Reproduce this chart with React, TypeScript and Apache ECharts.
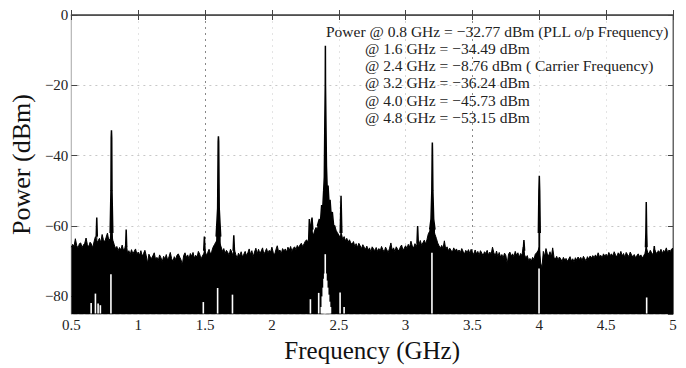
import React, { useEffect, useRef } from "react";
import * as echarts from "echarts";

// Spectrum noise floor, sampled every 0.01 GHz from 0.50 GHz (dBm)
const FREQ_START = 0.5;
const FREQ_STEP = 0.01;
const noiseFloor = [
  -66.0, -65.2, -65.8, -63.6, -65.5, -66.3, -65.0, -64.8, -66.1, -65.4, // 0.50
  -64.9, -63.4, -65.3, -65.9, -64.6, -65.1, -66.2, -64.4, -63.0, -64.8, // 0.60
  -64.2, -63.5, -64.7, -62.4, -63.9, -64.5, -63.2, -62.0, -64.1, -63.6, // 0.70
  -61.5, -64.0, -65.2, -66.4, -65.8, -67.0, -66.1, -66.8, -65.4, -66.9, // 0.80
  -66.3, -64.8, -67.6, -67.0, -68.1, -66.7, -67.9, -67.2, -66.5, -68.0, // 0.90
  -67.4, -68.3, -67.0, -68.6, -67.8, -66.9, -68.4, -70.6, -68.0, -68.8, // 1.00
  -69.2, -68.4, -67.6, -69.5, -68.9, -69.8, -68.2, -69.0, -70.1, -68.6, // 1.10
  -69.4, -68.1, -69.7, -68.8, -67.5, -69.3, -70.0, -68.7, -69.5, -68.3, // 1.20
  -67.9, -68.8, -69.6, -71.0, -68.4, -67.6, -68.9, -68.2, -69.3, -67.8, // 1.30
  -68.6, -67.5, -69.1, -68.3, -68.9, -67.2, -68.0, -69.4, -68.5, -67.9, // 1.40
  -67.0, -68.4, -67.5, -66.6, -68.0, -67.2, -66.0, -65.3, -64.6, -64.0, // 1.50
  -62.5, -64.8, -65.9, -67.2, -66.4, -67.8, -66.9, -67.5, -68.3, -66.6, // 1.60
  -67.4, -68.6, -66.8, -68.1, -69.2, -67.7, -68.5, -67.3, -68.8, -68.0, // 1.70
  -67.2, -68.4, -67.6, -66.5, -68.1, -67.0, -68.7, -67.4, -66.3, -67.9, // 1.80
  -66.6, -67.8, -67.1, -66.2, -68.0, -67.3, -66.4, -67.7, -66.9, -67.4, // 1.90
  -66.0, -67.5, -68.2, -66.7, -65.6, -67.3, -66.8, -67.9, -66.4, -67.1, // 2.00
  -66.5, -67.4, -66.0, -66.9, -65.8, -67.2, -66.3, -65.9, -66.7, -65.5, // 2.10
  -66.2, -65.4, -64.9, -65.8, -65.1, -64.3, -63.9, -64.6, -63.5, -62.9, // 2.20
  -61.8, -62.6, -61.2, -60.4, -61.0, -59.8, -58.7, -59.3, -57.9, -57.2, // 2.30
  -57.0, -57.5, -58.3, -57.8, -59.0, -59.6, -60.3, -59.8, -61.2, -61.9, // 2.40
  -62.5, -63.4, -62.2, -63.8, -63.0, -64.2, -63.5, -64.6, -63.9, -64.8, // 2.50
  -65.2, -64.4, -65.8, -65.0, -66.1, -64.9, -65.6, -66.4, -65.3, -66.0, // 2.60
  -66.6, -65.7, -66.9, -66.2, -67.3, -65.9, -66.5, -67.0, -66.1, -67.2, // 2.70
  -66.4, -67.1, -65.8, -66.7, -67.4, -66.0, -66.8, -67.5, -66.3, -64.8, // 2.80
  -66.9, -66.2, -67.3, -65.9, -66.6, -67.1, -66.0, -65.4, -66.8, -66.3, // 2.90
  -65.6, -66.4, -65.2, -66.0, -64.3, -65.7, -66.2, -65.0, -65.8, -64.6, // 3.00
  -65.3, -64.1, -65.5, -64.7, -64.0, -65.1, -63.8, -62.2, -61.5, -60.5, // 3.10
  -59.8, -61.2, -62.4, -63.5, -64.8, -65.6, -66.3, -65.5, -66.4, -64.2, // 3.20
  -66.6, -65.9, -67.0, -66.3, -66.9, -67.4, -66.2, -67.1, -66.5, -67.3, // 3.30
  -66.8, -67.5, -66.4, -67.2, -68.0, -66.9, -67.6, -66.7, -67.8, -66.6, // 3.40
  -67.4, -68.1, -66.8, -67.9, -67.2, -68.3, -67.0, -67.7, -68.4, -67.3, // 3.50
  -67.8, -66.9, -68.2, -67.4, -68.0, -66.0, -67.6, -68.5, -67.1, -68.7, // 3.60
  -67.5, -68.8, -68.1, -69.0, -67.7, -68.4, -70.8, -68.0, -67.4, -68.6, // 3.70
  -67.9, -68.7, -67.2, -68.3, -67.6, -68.9, -67.8, -68.4, -66.0, -68.2, // 3.80
  -69.1, -68.4, -69.8, -69.2, -70.0, -68.9, -69.5, -68.0, -67.6, -67.0, // 3.90
  -66.0, -70.5, -71.8, -67.2, -68.6, -66.4, -67.9, -68.5, -67.3, -68.8, // 4.00
  -66.2, -68.9, -69.4, -68.6, -69.7, -68.8, -69.3, -70.1, -68.9, -69.6, // 4.10
  -69.2, -70.0, -69.4, -68.7, -69.9, -69.3, -70.2, -69.0, -69.7, -68.8, // 4.20
  -69.5, -68.9, -69.8, -68.6, -69.3, -69.9, -68.7, -69.4, -68.5, -69.1, // 4.30
  -68.4, -69.0, -68.2, -68.9, -67.6, -68.7, -68.3, -69.1, -67.9, -68.6, // 4.40
  -68.0, -68.7, -67.5, -68.4, -67.9, -68.6, -67.3, -68.2, -68.8, -67.6, // 4.50
  -68.3, -67.2, -68.5, -67.8, -68.9, -67.5, -68.1, -68.7, -67.4, -68.2, // 4.60
  -68.8, -68.1, -69.0, -68.4, -67.9, -68.7, -68.2, -69.1, -68.5, -67.8, // 4.70
  -66.0, -67.4, -68.0, -66.9, -67.6, -68.2, -66.5, -67.3, -67.9, -67.0, // 4.80
  -67.5, -66.6, -67.8, -66.9, -67.3, -66.2, -67.6, -66.8, -67.2, -66.5, // 4.90
  -66.3, // 5.00
];

// Spectral lines / spurs: [GHz, dBm] outlines
const peakShapes: number[][][] = [
  [[0.686, -63], [0.69, -57.6], [0.694, -63]],
  [[0.79, -62], [0.796, -50], [0.798, -35], [0.8, -32.77], [0.802, -35], [0.804, -50], [0.81, -62]],
  [[0.906, -66], [0.91, -61], [0.914, -66]],
  [[1.49, -67], [1.495, -63], [1.5, -67]],
  [[1.583, -63], [1.594, -55], [1.598, -36], [1.6, -34.49], [1.602, -36], [1.606, -55], [1.617, -63]],
  [[1.71, -67], [1.715, -62.6], [1.72, -67]],
  [[2.275, -64], [2.28, -58], [2.286, -62], [2.3, -57.6], [2.306, -61]],
  [[2.34, -60], [2.355, -58], [2.362, -59.5], [2.372, -54], [2.38, -55], [2.387, -50], [2.392, -46], [2.396, -30], [2.399, -20], [2.4, -8.76],
   [2.401, -20], [2.404, -30], [2.408, -43], [2.414, -50], [2.42, -48.5], [2.428, -54], [2.435, -52.5], [2.443, -57], [2.452, -56], [2.462, -60], [2.47, -61]],
  [[2.511, -62], [2.517, -51.4], [2.523, -62]],
  [[3.085, -65], [3.09, -60], [3.095, -65]],
  [[3.18, -61], [3.19, -58], [3.196, -50], [3.199, -38], [3.2, -36.24], [3.201, -38], [3.204, -50], [3.21, -58], [3.22, -61]],
  [[3.88, -67], [3.885, -64], [3.89, -67]],
  [[3.993, -62], [3.997, -50], [4.0, -45.73], [4.003, -50], [4.007, -62]],
  [[4.794, -66], [4.797, -62], [4.799, -56], [4.8, -53.15], [4.801, -56], [4.803, -62], [4.806, -66]],
  [[4.855, -68], [4.86, -65.7], [4.865, -68]],
];

// White notches at the bottom of the trace: [GHz, top dBm]
const gaps: [number, number][] = [
  [0.648, -81.9], [0.68, -79.2], [0.7, -82], [0.717, -82.5], [0.796, -73.7],
  [1.487, -81.6], [1.594, -77.6], [1.705, -79.5],
  [2.288, -80.8], [2.35, -79],
  [2.37, -83], [2.377, -80], [2.384, -77.5], [2.39, -75], [2.395, -73.5], [2.399, -68],
  [2.404, -73.5], [2.41, -75.5], [2.417, -77.5], [2.424, -79.5], [2.431, -81.5], [2.438, -83],
  [2.51, -78.9], [2.54, -83], [3.197, -67.6], [3.998, -72.1], [4.803, -80.3],
];

const annotation = [
  "Power @ 0.8 GHz = \u221232.77 dBm (PLL o/p Frequency)",
  "@ 1.6 GHz = \u221234.49 dBm",
  "@ 2.4 GHz = \u22128.76 dBm ( Carrier Frequency)",
  "@ 3.2 GHz = \u221236.24 dBm",
  "@ 4.0 GHz = \u221245.73 dBm",
  "@ 4.8 GHz = \u221253.15 dBm",
];

const Y_MIN = -85;
const SERIF = "Liberation Serif";

export default function App() {
  const ref = useRef<HTMLDivElement>(null);
  useEffect(() => {
    const chart = echarts.init(ref.current!, null, { renderer: "svg" });
    const noiseData = noiseFloor.map((v, i) => [+(FREQ_START + i * FREQ_STEP).toFixed(2), v]);
    const minus = (v: number) => (v < 0 ? "\u2212" + String(-v) : String(v));
    const faint = "#e4e4e4";
    const dark = "#888";
    const vColors = [faint, faint, dark, faint, faint, "#d4d4d4", dark, faint, faint, faint];

    const lineSeries = (data: number[][], width: number) => ({
      type: "line",
      data,
      symbol: "none",
      silent: true,
      lineStyle: { color: "#000", width },
      areaStyle: { color: "#000", opacity: 1, origin: "start" },
      z: 3,
    });

    chart.setOption({
      animation: false,
      backgroundColor: "#fff",
      textStyle: { fontFamily: SERIF },
      grid: { left: 65, right: 13, top: 15, bottom: 41, show: true, borderColor: "#666", borderWidth: 1 },
      xAxis: [
        {
          type: "value",
          min: 0.5,
          max: 5,
          interval: 0.5,
          name: "Frequency (GHz)",
          nameLocation: "middle",
          nameGap: 24,
          nameTextStyle: { fontFamily: SERIF, fontSize: 25, color: "#111" },
          axisLine: { lineStyle: { color: "#444" } },
          axisTick: { inside: true, length: 5, lineStyle: { color: "#444" } },
          axisLabel: { fontFamily: SERIF, fontSize: 15, color: "#222", margin: 3 },
          splitLine: { show: true, lineStyle: { type: [2, 4], color: vColors } },
        },
        {
          type: "value",
          position: "top",
          min: 0.5,
          max: 5,
          interval: 0.5,
          axisLine: { show: true, lineStyle: { color: "#555", width: 1.5 } },
          axisTick: { inside: true, length: 5, lineStyle: { color: "#444" } },
          axisLabel: { show: false },
          splitLine: { show: false },
        },
      ],
      yAxis: [
        {
          type: "value",
          min: Y_MIN,
          max: 0,
          splitNumber: 4,
          name: "Power (dBm)",
          nameLocation: "middle",
          nameGap: 31,
          nameTextStyle: { fontFamily: SERIF, fontSize: 26, color: "#111" },
          axisLine: { show: true, lineStyle: { color: "#bbb" } },
          axisTick: { inside: true, length: 6, lineStyle: { color: "#444" } },
          axisLabel: {
            fontFamily: SERIF,
            fontSize: 15,
            color: "#222",
            margin: 3,
            showMinLabel: false,
            formatter: (v: number) => (v % 20 === 0 ? minus(v) : ""),
          },
          splitLine: { show: true, lineStyle: { type: [2, 4], color: "#c8c8c8" } },
        },
        {
          type: "value",
          position: "right",
          min: Y_MIN,
          max: 0,
          splitNumber: 4,
          axisLine: { show: true, lineStyle: { color: "#666" } },
          axisTick: { inside: true, length: 5, lineStyle: { color: "#444" } },
          axisLabel: { show: false },
          splitLine: { show: false },
        },
      ],
      series: [
        lineSeries(noiseData, 1),
        ...peakShapes.map((p) => lineSeries(p, 1.5)),
        {
          type: "custom",
          data: gaps,
          silent: true,
          z: 4,
          clip: true,
          renderItem: (params: any, api: any) => {
            const f = api.value(0);
            const top = api.coord([f, api.value(1)]);
            const bot = api.coord([f, Y_MIN]);
            return {
              type: "rect",
              shape: { x: top[0] - 0.8, y: top[1], width: 1.6, height: bot[1] - top[1] - 0.5 },
              style: { fill: "#fff" },
            };
          },
        },
      ],
      graphic: annotation.map((t, i) => ({
        type: "text",
        x: i === 0 ? 326 : 365,
        y: 31 + i * 17.3,
        z: 10,
        style: {
          text: t,
          fontFamily: SERIF,
          fontSize: 15.5,
          fill: "#222",
          verticalAlign: "middle",
        },
      })),
    });
    return () => chart.dispose();
  }, []);
  return <div ref={ref} style={{ position: "absolute", left: 0, top: 0, width: 686, height: 368 }} />;
}
